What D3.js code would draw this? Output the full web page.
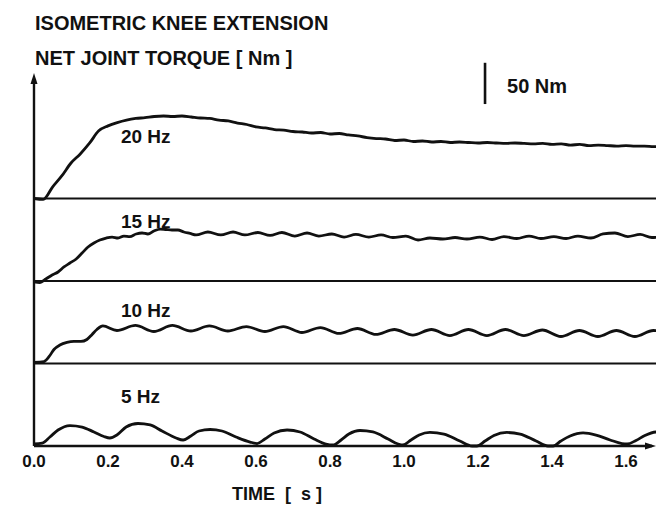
<!DOCTYPE html>
<html>
<head>
<meta charset="utf-8">
<script src="https://cdn.jsdelivr.net/npm/d3@7"></script>
<style>
  body { margin: 0; background: #fff; }
  svg { display: block; }
  text { font-family: "Liberation Sans", Arial, Helvetica, sans-serif; font-weight: bold; fill: #111; }
</style>
</head>
<body>
<svg id="chart" width="656" height="507"></svg>
<script>
// Isometric knee extension: net joint torque [Nm] against time [s]
// for four stimulation frequencies, stacked with a 100 Nm offset.

const titleLines = ["ISOMETRIC KNEE EXTENSION", "NET JOINT TORQUE [ Nm ]"];
const xAxisTitle = "TIME  [  s ]";
const timeTicks = [0.0, 0.2, 0.4, 0.6, 0.8, 1.0, 1.2, 1.4, 1.6];
const frequencies = ["20 Hz", "15 Hz", "10 Hz", "5 Hz"];
const scaleBarNm = 50;

// [time s, torque Nm]
const torque20Hz = [
  [0.000, 0], [0.025, -1], [0.050, 13.9], [0.075, 27.3], [0.100, 43], [0.125, 54],
  [0.150, 67], [0.175, 82], [0.200, 88], [0.225, 92], [0.250, 95], [0.275, 97],
  [0.300, 98], [0.325, 99.4], [0.350, 100], [0.375, 99.4], [0.400, 100], [0.425, 98.8],
  [0.450, 97.6], [0.475, 97], [0.500, 95], [0.525, 94], [0.550, 91.5], [0.575, 89.7],
  [0.600, 86.7], [0.625, 85.5], [0.650, 83.6], [0.675, 83], [0.700, 81.2], [0.725, 80.6],
  [0.750, 79.4], [0.775, 80], [0.800, 78.2], [0.825, 78.8], [0.850, 77], [0.875, 75.8],
  [0.900, 73.9], [0.925, 72.7], [0.950, 72.1], [0.975, 70.3], [1.000, 70.9], [1.025, 69.1],
  [1.050, 69.7], [1.075, 68.5], [1.100, 69.1], [1.125, 67.9], [1.150, 68.5], [1.175, 67.9],
  [1.200, 67.3], [1.225, 67.9], [1.250, 67.3], [1.275, 66.7], [1.300, 67.3], [1.325, 66.7],
  [1.350, 66.1], [1.375, 66.7], [1.400, 65.5], [1.425, 66.1], [1.450, 64.8], [1.475, 65.5],
  [1.500, 64.2], [1.525, 64.8], [1.550, 64.2], [1.575, 63.6], [1.600, 64.2], [1.625, 63.6],
  [1.650, 63.6], [1.675, 63], [1.700, 63]
];

const torque15Hz = [
  [0.000, -1], [0.016, -1.8], [0.032, 2.4], [0.049, 7.3], [0.065, 10.9], [0.081, 17],
  [0.097, 21.8], [0.114, 26.7], [0.130, 33.9], [0.146, 41.2], [0.162, 46.1], [0.178, 49.7],
  [0.195, 52.1], [0.211, 53.3], [0.227, 52.1], [0.243, 54.5], [0.259, 53.9], [0.276, 57],
  [0.292, 58.2], [0.308, 57], [0.324, 60.6], [0.341, 63], [0.357, 62.4], [0.373, 61.8],
  [0.389, 61.8], [0.405, 59.4], [0.422, 57.6], [0.438, 55.8], [0.470, 59.4], [0.505, 55.8],
  [0.538, 59.4], [0.570, 55.8], [0.605, 58.8], [0.638, 55.2], [0.670, 58.8], [0.705, 54.5],
  [0.738, 58.2], [0.770, 54.5], [0.805, 57], [0.838, 53.3], [0.870, 56.4], [0.905, 53.3],
  [0.938, 55.8], [0.970, 52.7], [1.005, 54.5], [1.038, 49.7], [1.070, 52.1], [1.105, 50.9],
  [1.138, 52.7], [1.170, 50.9], [1.205, 53.3], [1.238, 50.3], [1.270, 53.9], [1.305, 51.5],
  [1.338, 54.5], [1.370, 51.5], [1.405, 53.9], [1.438, 51.5], [1.470, 54.5], [1.505, 52.1],
  [1.538, 57], [1.570, 58.2], [1.605, 53.9], [1.638, 56.4], [1.670, 52.7], [1.705, 54.5]
];

const torque10Hz = [
  [0.000, 1.2], [0.027, 2.4], [0.041, 8.5], [0.054, 17], [0.070, 22.4], [0.089, 25.5],
  [0.108, 26.7], [0.127, 26.7], [0.143, 29.1], [0.157, 35.2], [0.170, 41.2], [0.186, 45.5],
  [0.224, 40], [0.274, 46.1], [0.324, 38.8], [0.374, 46.1], [0.424, 39.4], [0.474, 45.5],
  [0.524, 39.4], [0.574, 44.8], [0.624, 38.8], [0.674, 44.8], [0.724, 37.6], [0.774, 43.6],
  [0.824, 36.4], [0.874, 42.4], [0.924, 35.2], [0.974, 41.2], [1.024, 34.5], [1.074, 41.2],
  [1.124, 33.9], [1.174, 41.2], [1.224, 33.9], [1.274, 41.2], [1.324, 33.9], [1.374, 40.6],
  [1.424, 32.7], [1.474, 40], [1.524, 32.7], [1.574, 40], [1.624, 32.7], [1.674, 40],
  [1.724, 33.9]
];

const torque5Hz = [
  [0.000, 2.4], [0.022, 3.6], [0.043, 10.9], [0.065, 19.4], [0.097, 24.8], [0.130, 23],
  [0.162, 17], [0.189, 11.5], [0.205, 9.7], [0.224, 13.3], [0.249, 23], [0.281, 27.3],
  [0.314, 25.5], [0.346, 18.2], [0.384, 9.7], [0.403, 7.3], [0.424, 12.1], [0.446, 18.2],
  [0.476, 20], [0.508, 18.2], [0.546, 10.9], [0.584, 4.8], [0.603, 3], [0.624, 8.5],
  [0.649, 15.8], [0.684, 19.4], [0.719, 17], [0.757, 8.5], [0.789, 2.4], [0.808, 1.2],
  [0.830, 7.3], [0.851, 14.5], [0.881, 18.8], [0.916, 17], [0.957, 8.5], [0.984, 2.4],
  [0.997, 1.2], [1.019, 7.3], [1.041, 13.3], [1.070, 16.4], [1.108, 14.5], [1.151, 6],
  [1.184, 0], [1.197, 0], [1.219, 6], [1.243, 12.7], [1.278, 16.4], [1.314, 14.5],
  [1.357, 6], [1.389, 0], [1.403, 0], [1.424, 6], [1.449, 12.1], [1.484, 15.8],
  [1.519, 13.3], [1.557, 7.3], [1.589, 3], [1.603, 2.4], [1.627, 6.7], [1.651, 12.7],
  [1.684, 17], [1.714, 15.2]
];

const traces = [torque20Hz, torque15Hz, torque10Hz, torque5Hz];

// ---- layout ----
const W = 656, H = 507;
const stackStep = 100;              // Nm between stacked baselines
const pxPerSecond = 370, pxPerNm = 0.825;
const originX = 34, originY = 446;

const x = d3.scaleLinear().domain([0, 1.7]).range([originX, originX + 1.7 * pxPerSecond]);
const y = d3.scaleLinear().domain([0, 470]).range([originY, originY - 470 * pxPerNm]);

const svg = d3.select("#chart");

svg.append("defs").append("clipPath").attr("id", "plot-clip")
  .append("rect").attr("x", originX - 2).attr("y", 0).attr("width", W - originX + 2).attr("height", H);

// titles
svg.selectAll("text.title").data(titleLines).join("text")
  .attr("class", "title")
  .attr("x", 35).attr("y", (d, i) => 30 + i * 35)
  .attr("font-size", 20)
  .text(d => d);

// stacked traces
const offsetOf = i => (traces.length - 1 - i) * stackStep;
const line = d3.line().curve(d3.curveMonotoneX);

const plot = svg.append("g").attr("clip-path", "url(#plot-clip)");

// zero lines for each upper trace
plot.selectAll("line.base").data(traces.slice(0, -1)).join("line")
  .attr("class", "base")
  .attr("x1", x(0)).attr("x2", W)
  .attr("y1", (d, i) => y(offsetOf(i))).attr("y2", (d, i) => y(offsetOf(i)))
  .attr("stroke", "#111").attr("stroke-width", 2.2);

plot.selectAll("path.trace").data(traces).join("path")
  .attr("class", "trace")
  .attr("fill", "none").attr("stroke", "#111").attr("stroke-width", 2.8)
  .attr("stroke-linejoin", "round")
  .attr("d", (d, i) => line(d.map(([t, v]) => [x(t), y(v + offsetOf(i))])));

// frequency labels
const labelRise = [56, 53, 47, 43];
svg.selectAll("text.freq").data(frequencies).join("text")
  .attr("class", "freq")
  .attr("x", x(0.235))
  .attr("y", (d, i) => y(offsetOf(i)) - labelRise[i])
  .attr("font-size", 19)
  .text(d => d);

// axes
const axisTop = 452;
svg.append("line")
  .attr("x1", x(0)).attr("x2", x(0)).attr("y1", y(0)).attr("y2", y(axisTop) + 6)
  .attr("stroke", "#111").attr("stroke-width", 2.4);
svg.append("path")
  .attr("d", `M${x(0)},${y(axisTop)} l-3.5,11 l7,0 Z`).attr("fill", "#111");

svg.append("line")
  .attr("x1", x(0)).attr("x2", W - 4).attr("y1", y(0)).attr("y2", y(0))
  .attr("stroke", "#111").attr("stroke-width", 2.4);
svg.append("path")
  .attr("d", `M${W},${y(0)} l-11,-3.5 l0,7 Z`).attr("fill", "#111");

svg.selectAll("text.tick").data(timeTicks).join("text")
  .attr("class", "tick")
  .attr("x", d => x(d)).attr("y", 467)
  .attr("text-anchor", "middle")
  .attr("font-size", 17)
  .text(d => d3.format(".1f")(d));

svg.append("text")
  .attr("x", 277).attr("y", 500)
  .attr("text-anchor", "middle")
  .attr("font-size", 18)
  .style("white-space", "pre")
  .text(xAxisTitle);

// 50 Nm scale bar
const barBottom = 414.5;
svg.append("line")
  .attr("x1", x(1.219)).attr("x2", x(1.219))
  .attr("y1", y(barBottom)).attr("y2", y(barBottom + scaleBarNm))
  .attr("stroke", "#111").attr("stroke-width", 2.6);
svg.append("text")
  .attr("x", x(1.219) + 22).attr("y", 93)
  .attr("font-size", 20)
  .text(`${scaleBarNm} Nm`);
</script>
</body>
</html>
